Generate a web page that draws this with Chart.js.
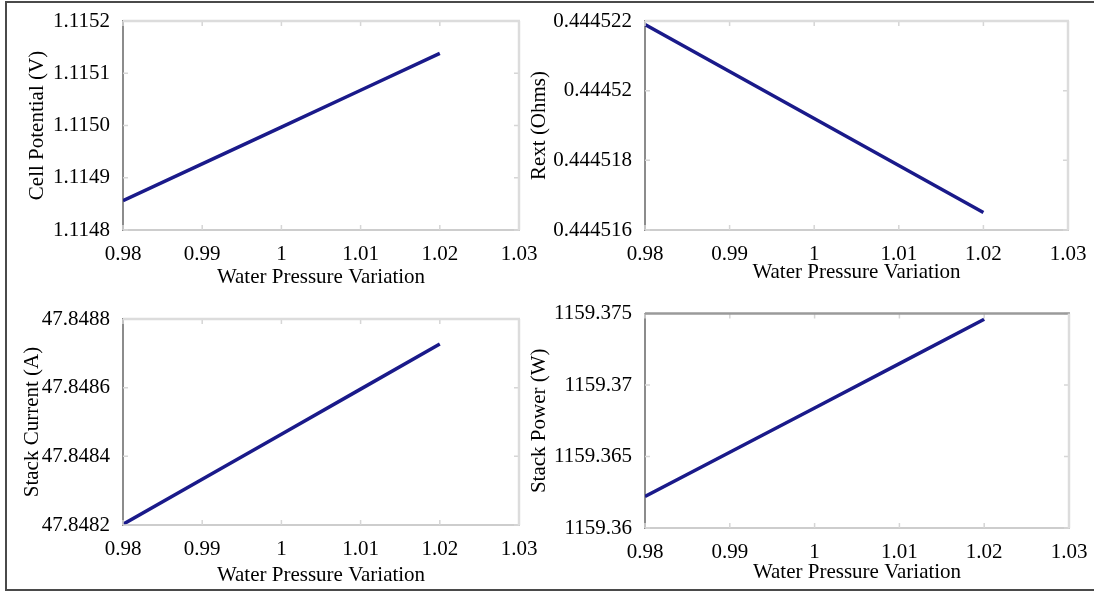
<!DOCTYPE html>
<html>
<head>
<meta charset="utf-8">
<script src="https://cdn.jsdelivr.net/npm/chart.js@4.4.0/dist/chart.umd.min.js"></script>
<style>
    body { margin: 0; background: #fff; }
    #page { position: relative; width: 1094px; height: 592px; overflow: hidden; background: #fff; }
    #frame { position: absolute; left: 5px; top: 1px; width: 1100px; height: 590px; border: 2px solid #4a4a4a; box-sizing: border-box; }
    canvas { position: absolute; }
</style>
</head>
<body>
<div id="page">
    <div id="frame"></div>
    <canvas id="c1" width="545" height="296" style="left:8px;top:0px"></canvas>
    <canvas id="c2" width="579" height="296" style="left:515px;top:0px"></canvas>
    <canvas id="c3" width="545" height="296" style="left:8px;top:296px"></canvas>
    <canvas id="c4" width="579" height="296" style="left:515px;top:296px"></canvas>
</div>
<script>
// values
const pressure = [0.98, 0.99, 1.00, 1.01, 1.02];
const cellPotential = [1.114856, 1.1149265, 1.114997, 1.1150675, 1.115138];
const rext = [0.4445219, 0.44452055, 0.4445192, 0.44451785, 0.4445165];
const stackCurrent = [47.848202, 47.8483333, 47.8484645, 47.8485958, 47.848727];
const stackPower = [1159.3622, 1159.3653, 1159.3684, 1159.3715, 1159.3746];

const xTicks = [0.98, 0.99, 1, 1.01, 1.02, 1.03];
const xTickLabels = ['0.98', '0.99', '1', '1.01', '1.02', '1.03'];
const cellTicks = [1.1148, 1.1149, 1.1150, 1.1151, 1.1152];
const cellTickLabels = ['1.1148', '1.1149', '1.1150', '1.1151', '1.1152'];
const rextTicks = [0.444516, 0.444518, 0.44452, 0.444522];
const rextTickLabels = ['0.444516', '0.444518', '0.44452', '0.444522'];
const currentTicks = [47.8482, 47.8484, 47.8486, 47.8488];
const currentTickLabels = ['47.8482', '47.8484', '47.8486', '47.8488'];
const powerTicks = [1159.36, 1159.365, 1159.37, 1159.375];
const powerTickLabels = ['1159.36', '1159.365', '1159.37', '1159.375'];

const xTitle = 'Water Pressure Variation';
const FONT = "'Liberation Serif', 'Times New Roman', serif";

Chart.defaults.color = '#000';
Chart.defaults.font.family = FONT;
Chart.defaults.font.size = 21;

// box + inward tick marks, matlab style
const boxPlugin = {
    id: 'box',
    afterDraw(chart, args, opts) {
        const { ctx, chartArea: a, scales } = chart;
        ctx.save();
        ctx.strokeStyle = '#d6d6d6';
        ctx.lineWidth = 1.5;
        scales.x.ticks.forEach(t => {
            const px = scales.x.getPixelForValue(t.value);
            ctx.beginPath();
            ctx.moveTo(px, a.bottom); ctx.lineTo(px, a.bottom - 5);
            ctx.moveTo(px, a.top); ctx.lineTo(px, a.top + 5);
            ctx.stroke();
        });
        scales.y.ticks.forEach(t => {
            const py = scales.y.getPixelForValue(t.value);
            ctx.beginPath();
            ctx.moveTo(a.left, py); ctx.lineTo(a.left + 5, py);
            ctx.moveTo(a.right, py); ctx.lineTo(a.right - 5, py);
            ctx.stroke();
        });
        // top and right edges
        ctx.lineWidth = 2.5;
        ctx.strokeStyle = opts.topColor || '#dcdcdc';
        ctx.beginPath();
        ctx.moveTo(a.left, a.top); ctx.lineTo(a.right + 1, a.top);
        ctx.stroke();
        ctx.strokeStyle = '#dcdcdc';
        ctx.beginPath();
        ctx.moveTo(a.right, a.top); ctx.lineTo(a.right, a.bottom);
        ctx.stroke();
        ctx.restore();
    }
};

function makePanel(id, p) {
    const canvas = document.getElementById(id);
    const cw = canvas.width, ch = canvas.height;
    const left = parseFloat(canvas.style.left), top = parseFloat(canvas.style.top);

    new Chart(canvas.getContext('2d'), {
        type: 'line',
        data: {
            datasets: [{
                data: pressure.map((x, i) => ({ x, y: p.values[i] })),
                borderColor: '#1a1a8a',
                borderWidth: 3.5,
                pointRadius: 0,
                fill: false,
                tension: 0
            }]
        },
        options: {
            responsive: false,
            animation: false,
            devicePixelRatio: 1,
            events: [],
            layout: { padding: { top: p.area.y0 - top, right: left + cw - p.area.x1, left: 0, bottom: 0 } },
            plugins: { legend: { display: false }, tooltip: { enabled: false }, box: { topColor: p.topColor } },
            scales: {
                x: {
                    type: 'linear',
                    min: xTicks[0],
                    max: xTicks[xTicks.length - 1],
                    grid: { display: false },
                    border: { display: true, color: '#cdcdcd', width: 2 },
                    afterBuildTicks: s => { s.ticks = xTicks.map(v => ({ value: v })); },
                    afterFit: s => { s.height = top + ch - p.area.y1; },
                    ticks: { autoSkip: false, maxRotation: 0, padding: 4, callback: (v, i) => xTickLabels[i] },
                    title: { display: true, text: xTitle, padding: { top: 0, bottom: p.xTitlePad } }
                },
                y: {
                    type: 'linear',
                    min: p.ticks[0],
                    max: p.ticks[p.ticks.length - 1],
                    grid: { display: false },
                    border: { display: true, color: '#8c8c8c', width: 2 },
                    afterBuildTicks: s => { s.ticks = p.ticks.map(v => ({ value: v })); },
                    afterFit: s => { s.width = p.area.x0 - left; },
                    ticks: { autoSkip: false, padding: 5, callback: (v, i) => p.labels[i] },
                    title: { display: true, text: p.yTitle, padding: { top: p.yTitlePad, bottom: 0 } }
                }
            }
        },
        plugins: [boxPlugin]
    });
}

makePanel('c1', {
    values: cellPotential, ticks: cellTicks, labels: cellTickLabels,
    yTitle: 'Cell Potential (V)', area: { x0: 123, y0: 21, x1: 519, y1: 230 },
    xTitlePad: 6, yTitlePad: 17
});
makePanel('c2', {
    values: rext, ticks: rextTicks, labels: rextTickLabels,
    yTitle: 'Rext (Ohms)', area: { x0: 645, y0: 21, x1: 1068, y1: 230 },
    xTitlePad: 11, yTitlePad: 12
});
makePanel('c3', {
    values: stackCurrent, ticks: currentTicks, labels: currentTickLabels,
    yTitle: 'Stack Current (A)', area: { x0: 123, y0: 319, x1: 519, y1: 525 },
    xTitlePad: 4, yTitlePad: 12
});
makePanel('c4', {
    values: stackPower, ticks: powerTicks, labels: powerTickLabels,
    yTitle: 'Stack Power (W)', area: { x0: 645, y0: 312, x1: 1069, y1: 528 },
    xTitlePad: 7, yTitlePad: 12, topColor: '#9a9a9a'
});
</script>
</body>
</html>
